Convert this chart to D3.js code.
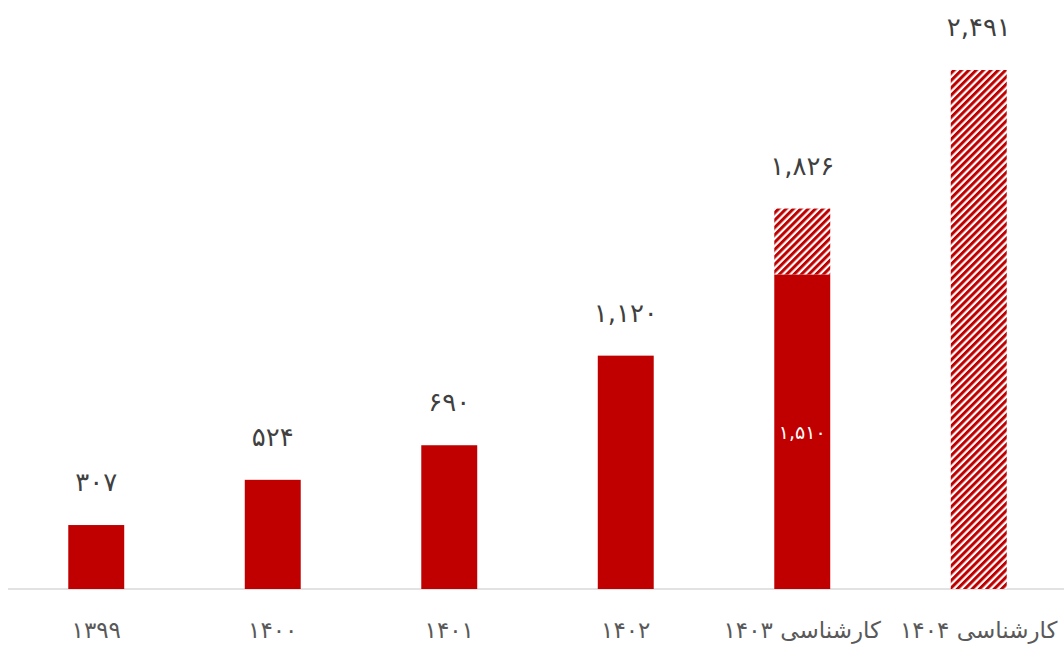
<!DOCTYPE html>
<html><head><meta charset="utf-8">
<script src="https://cdn.jsdelivr.net/npm/d3@7"></script>
<style>body{margin:0;background:#fff;} svg{display:block;}</style>
</head><body>
<svg id="c" width="1064" height="645"></svg>
<script>
const categories = ["۱۳۹۹","۱۴۰۰","۱۴۰۱","۱۴۰۲","کارشناسی ۱۴۰۳","کارشناسی ۱۴۰۴"];
const solidValues = [307, 524, 690, 1120, 1510, 0];
const hatchValues = [0, 0, 0, 0, 316, 2491];

const W = 1064, H = 645;
const margin = {left: 8, right: -3, top: 70, bottom: 56};
const svg = d3.select("#c");
const fa = s => s.replace(/[0-9]/g, d => "۰۱۲۳۴۵۶۷۸۹"[+d]);
const fmt = v => fa(d3.format(",")(v));

const x = d3.scaleBand().domain(categories).range([margin.left, W - margin.right]).paddingInner(0.683).paddingOuter(0.3415);
const y = d3.scaleLinear().domain([0, 2491]).range([H - margin.bottom, margin.top]);

const defs = svg.append("defs");
const pat = defs.append("pattern").attr("id","hatch").attr("patternUnits","userSpaceOnUse")
  .attr("width",5.2).attr("height",5.2).attr("patternTransform","rotate(45)");
pat.append("rect").attr("width",5.2).attr("height",5.2).attr("fill","#fff");
pat.append("rect").attr("width",3).attr("height",5.2).attr("fill","#c00000");

const data = categories.map((c,i)=>({c, s: solidValues[i], h: hatchValues[i], t: solidValues[i]+hatchValues[i]}));

// axis line
const axis = svg.append("g").attr("transform",`translate(0,${y(0)})`).call(d3.axisBottom(x).tickSize(0).tickPadding(0));
axis.select(".domain").attr("stroke","#d9d9d9").attr("stroke-width",1.5).attr("d",`M${margin.left},0H${W}`);
axis.selectAll("text").remove();

// solid bars
svg.append("g").selectAll("rect").data(data.filter(d=>d.s>0)).join("rect")
  .attr("x", d=>x(d.c)).attr("width", x.bandwidth())
  .attr("y", d=>y(d.s)).attr("height", d=>y(0)-y(d.s)).attr("fill","#c00000");
// hatch bars
svg.append("g").selectAll("rect").data(data.filter(d=>d.h>0)).join("rect")
  .attr("x", d=>x(d.c)).attr("width", x.bandwidth())
  .attr("y", d=>y(d.s+d.h)).attr("height", d=>y(d.s)-y(d.s+d.h)).attr("fill","url(#hatch)");

// total labels
svg.append("g").selectAll("text").data(data).join("text")
  .attr("x", d=>x(d.c)+x.bandwidth()/2).attr("y", d=>y(d.t)-34)
  .attr("text-anchor","middle").attr("font-family","DejaVu Sans, sans-serif").attr("font-size",26)
  .attr("fill","#404040").text(d=>fmt(d.t));

// inside label for stacked bar
svg.append("g").selectAll("text").data(data.filter(d=>d.s>0 && d.h>0)).join("text")
  .attr("x", d=>x(d.c)+x.bandwidth()/2).attr("y", d=>(y(d.s)+y(0))/2+7)
  .attr("text-anchor","middle").attr("font-family","DejaVu Sans, sans-serif").attr("font-size",19)
  .attr("fill","#fff").text(d=>fmt(d.s));

// category labels
svg.append("g").selectAll("text").data(categories).join("text")
  .attr("x", d=>x(d)+x.bandwidth()/2).attr("y", y(0)+49)
  .attr("text-anchor","middle").attr("direction","rtl").attr("font-family","DejaVu Sans, sans-serif").attr("font-size",23)
  .attr("fill","#595959").text(d=>d);
</script>
</body></html>
